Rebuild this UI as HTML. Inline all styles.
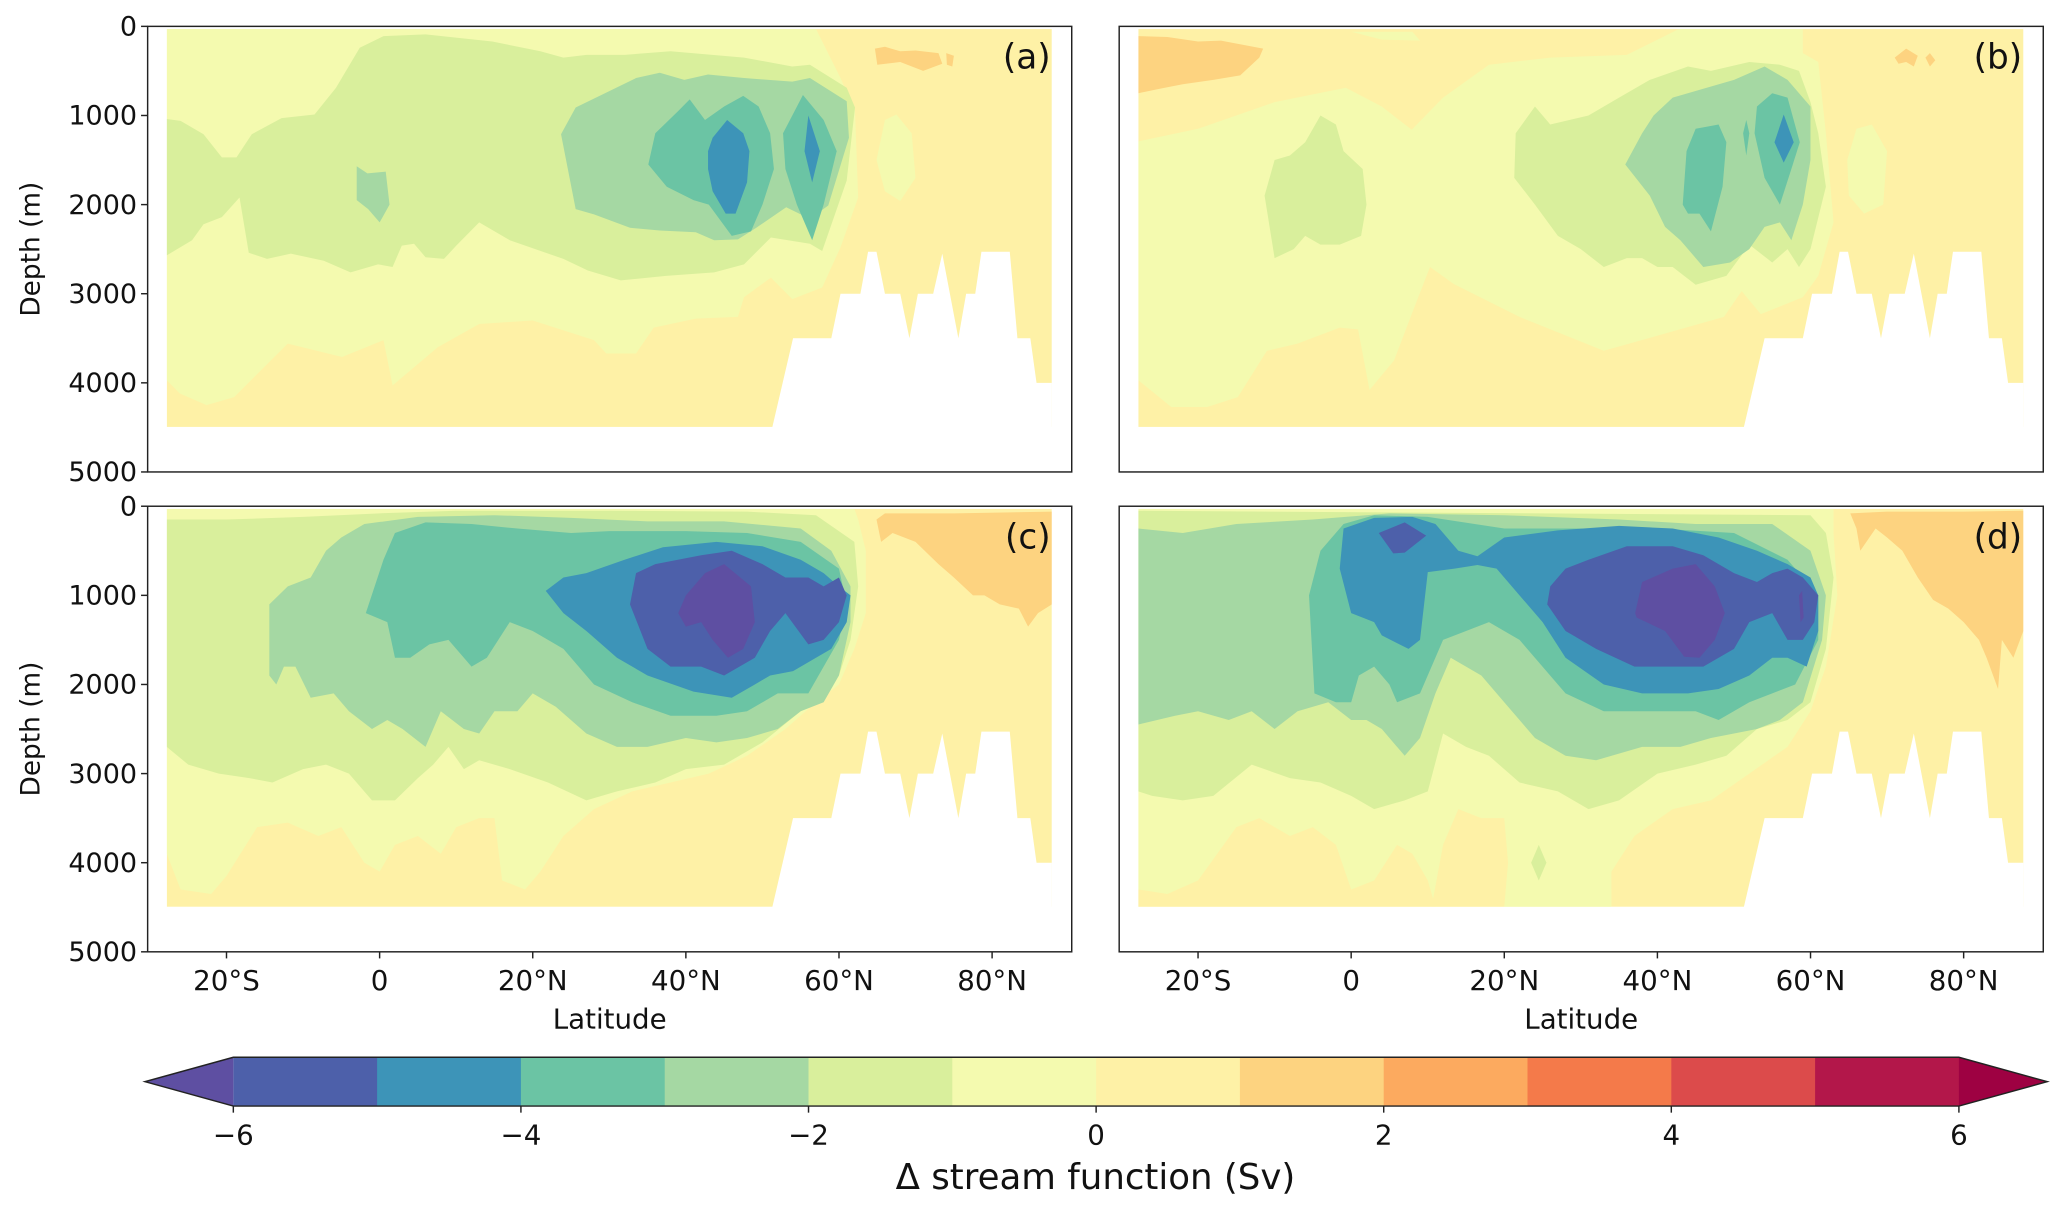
<!DOCTYPE html>
<html><head><meta charset="utf-8"><title>Stream function anomaly</title>
<style>html,body{margin:0;padding:0;background:#fff}svg{display:block}text{font-family:"DejaVu Sans","Liberation Sans",sans-serif;fill:#111}</style>
</head><body>
<svg id="fig" xmlns="http://www.w3.org/2000/svg" width="2067" height="1211" viewBox="0 0 1568 918.6" preserveAspectRatio="none"></svg>
<script>
// ---- colour scale data ----
const levelBounds = [-7,-6,-5,-4,-3,-2,-1,0,1,2,3,4,5,6];
const levelColors = ['#5e4fa2','#4d60aa','#3d94b8','#6bc4a4','#a5d8a3','#d9ef9c','#f4faaf','#fef1a6','#fdd380','#fcaa5f','#f47a4a','#dc4b4b','#b3174a','#9e0142'];
const cbarTicks = [-6,-4,-2,0,2,4,6];
const cbarTickLabels = ['\u22126','\u22124','\u22122','0','2','4','6'];
const depthTicks = [0,1000,2000,3000,4000,5000];
const latTicks = [-20,0,20,40,60,80];
const latTickLabels = ['20°S','0','20°N','40°N','60°N','80°N'];
const bathyMask = [[51.3,4495],[54,3500],[59,3500],[60.2,3000],[62.8,3000],[63.8,2530],[64.9,2530],[66,3000],[68,3000],[69.2,3500],[70.3,3000],[72.3,3000],[73.5,2550],[75.6,3500],[76.6,3000],[77.8,3000],[78.6,2530],[82.3,2530],[83.3,3500],[85,3500],[85.8,4000],[87.8,4000],[87.8,5000],[51.3,5000]];

// contours: [level lower bound, polygon of [lat, depth]]
const contoursA = [
 [-1,[[-27.8,30],[57,30],[60.2,580],[62.1,950],[62.5,1920],[60.2,2480],[57.8,2930],[53.9,3060],[51.1,2820],[47.6,3040],[46.8,3260],[41.3,3280],[35.8,3380],[33.5,3670],[29.6,3670],[28,3520],[20,3300],[13,3340],[7.6,3600],[1.7,4030],[0.5,3520],[-4.9,3710],[-12,3560],[-19,4160],[-22.6,4250],[-26.1,4120],[-27.8,3970]]],
 [-1,[[64.9,1500],[66,1050],[67.5,990],[69.5,1200],[70,1700],[68,1960],[66,1850]]],
 [1,[[64.7,250],[66,230],[68,280],[70,270],[73,300],[73.5,420],[71,500],[68,400],[65,430]]],
 [1,[[74,300],[75,330],[74.8,450],[74.1,430]]],
 [-2,[[-27.8,1040],[-26,1060],[-23,1210],[-20.6,1470],[-18.7,1470],[-16.7,1210],[-12.8,1030],[-8.5,990],[-5.7,690],[-2.6,240],[0.5,110],[6,90],[14.7,170],[21,280],[24,350],[27,320],[32,320],[38,280],[47.6,350],[53.9,450],[56.2,430],[61,690],[62.1,910],[61,1730],[57.8,2520],[56.2,2440],[51.1,2370],[47.6,2670],[43.7,2760],[37.4,2800],[31.5,2850],[27.2,2740],[24,2610],[17,2400],[13,2200],[10,2460],[8.4,2610],[6,2590],[4.5,2440],[2.9,2460],[1.7,2700],[-0.2,2670],[-3.8,2760],[-7.3,2630],[-11.6,2550],[-14.7,2610],[-17.1,2540],[-18.3,1920],[-20.6,2140],[-23,2220],[-24.5,2400],[-27.8,2570]]],
 [-3,[[-3,1570],[-1.6,1650],[0.8,1630],[1.3,2000],[0,2200],[-1.5,2050],[-3,1950]]],
 [-3,[[23.7,1210],[25.6,910],[33.5,580],[36.6,520],[39.8,600],[42.9,540],[47.6,580],[53.9,620],[56.2,580],[61,840],[61.3,1250],[58.6,2010],[56.2,2160],[53.1,2030],[49.2,2260],[46.8,2390],[43.7,2400],[41.3,2310],[36.6,2290],[32.7,2260],[28,2110],[25.6,2050]]],
 [-4,[[35.1,1550],[36,1200],[39,950],[40.5,820],[42.5,1050],[45,900],[47.5,780],[49.5,900],[51,1200],[51.5,1600],[50,2000],[48.5,2300],[46,2350],[43,2000],[41,1950],[37.5,1800]]],
 [-4,[[52.7,1200],[55.3,770],[58,1050],[59.7,1400],[58,2000],[56.5,2400],[54.5,2000],[53,1600]]],
 [-5,[[42.9,1400],[43.5,1250],[45.4,1050],[47.5,1200],[48.3,1400],[48,1750],[46.5,2100],[45.2,2100],[43.5,1850],[42.9,1600]]],
 [-5,[[55.5,1400],[56,1000],[57.5,1400],[56.5,1750]]]
];
const contoursB = [
 [-1,[[-27.8,1290],[-20,1150],[-10,850],[-0.7,690],[4,900],[7.9,1160],[12,800],[18,430],[26,350],[36,320],[43,20],[59,20],[59,300],[61,400],[62,1200],[63,2200],[61,2800],[59,3040],[53.5,3230],[51,2970],[48.7,3260],[33,3640],[22,3260],[13.4,2890],[10.3,2700],[7.9,3230],[5.6,3750],[2.4,4080],[0.9,3400],[-1.5,3380],[-7,3560],[-11,3640],[-14.8,4160],[-18.8,4270],[-23.5,4270],[-27.8,3970]]],
 [-1,[[64.8,1500],[66,1150],[68,1100],[70,1400],[69.5,2000],[67,2100],[65,1900]]],
 [-1,[[0,60],[8,60],[9,160],[4,150]]],
 [1,[[-27.8,110],[-24,120],[-20,170],[-17,160],[-11.5,250],[-12,350],[-14.5,550],[-18,600],[-22,650],[-25,700],[-27.8,750]]],
 [1,[[71,350],[72.5,250],[74,330],[73.5,450],[72.5,400],[71.5,420]]],
 [1,[[75,350],[75.6,300],[76.3,380],[75.6,450]]],
 [-2,[[-11.3,1900],[-10,1500],[-8,1450],[-6,1300],[-4,1000],[-2,1100],[-1,1400],[1.5,1600],[2,2000],[1.3,2350],[-1.5,2450],[-4,2450],[-6,2350],[-7.5,2500],[-10,2600]]],
 [-2,[[21.3,1700],[21.5,1200],[24,900],[26,1100],[31,1000],[35,800],[39,600],[44,450],[47,500],[52,400],[56,430],[58.5,500],[60,850],[61,1200],[62,1800],[60,2500],[58.5,2700],[57,2500],[55,2650],[52,2450],[49,2800],[45,2900],[42,2700],[40,2700],[38,2600],[36,2600],[33,2700],[30,2500],[27,2350],[24,2000]]],
 [-3,[[35.8,1550],[38,1200],[39.5,1000],[42,800],[46,700],[50,600],[54,450],[57,600],[60,900],[60,1500],[59,2000],[57.5,2400],[56,2200],[54,2250],[52,2500],[49.5,2650],[46,2700],[43,2400],[41,2250],[39,1900]]],
 [-4,[[43.3,2000],[43.8,1400],[45,1150],[48,1100],[49,1300],[48.5,1800],[47,2300],[45.5,2100],[44,2100]]],
 [-4,[[52.7,1200],[53,900],[55,750],[57,800],[58.6,1300],[57.5,1600],[56,2000],[54,1700]]],
 [-4,[[51.2,1200],[51.6,1050],[52,1200],[51.6,1450]]],
 [-5,[[55.3,1300],[56.5,990],[57.8,1300],[56.5,1530]]]
];
const contoursC = [
 [-1,[[-27.8,30],[62,30],[62.5,150],[63.5,500],[63.5,1200],[62,1600],[60,2000],[57,2200],[53,2500],[48,2800],[43,3000],[38,3100],[33,3200],[28,3400],[24,3700],[21,4100],[19,4300],[16,4200],[15,3500],[13,3500],[10,3600],[8,3900],[5,3700],[2,3800],[0,4100],[-2,4000],[-5,3600],[-8,3700],[-12,3550],[-16,3600],[-20,4150],[-22,4350],[-26,4300],[-27.8,3900]]],
 [1,[[64.9,150],[66,80],[75,80],[87.8,60],[87.8,1100],[86,1200],[84.7,1350],[83.5,1150],[81,1100],[79,1000],[77.5,1000],[75,800],[73,650],[70,400],[67,300],[65.5,400]]],
 [-2,[[-27.8,150],[-20,150],[-10,120],[0,80],[10,50],[30,50],[48,60],[57,100],[62,400],[62.5,900],[61.5,1500],[60,1900],[58,2100],[55,2300],[50,2650],[45,2900],[40,2950],[36,3100],[31,3200],[27,3300],[22,3100],[17,2950],[13,2850],[11,2950],[9,2700],[7,2900],[5,3050],[2,3300],[-1,3300],[-4,3000],[-7,2900],[-10,2950],[-14,3100],[-17,3050],[-21,3000],[-25,2900],[-27.8,2700]]],
 [-3,[[-14.4,1900],[-14.4,1100],[-12,900],[-9,800],[-7,500],[-5,350],[-2,200],[5,120],[15,100],[25,130],[35,170],[45,170],[55,250],[59,500],[61.5,900],[61.5,1300],[60,1900],[58,2200],[55,2300],[52,2500],[48,2600],[44,2650],[40,2600],[35,2700],[31,2700],[27,2550],[23,2250],[20,2100],[18,2300],[15,2300],[13,2550],[11,2500],[8,2300],[6,2700],[3,2500],[1,2400],[-1,2500],[-4,2300],[-6,2100],[-9,2150],[-11,1800],[-12.5,1800],[-13.5,2000]]],
 [-4,[[-1.8,1200],[0.5,600],[2,300],[6,180],[12,200],[18,250],[25,300],[30,280],[40,280],[48,300],[55,400],[60,700],[61,1100],[60,1500],[58,1800],[56,2100],[52,2100],[48,2300],[44,2350],[38,2350],[33,2200],[28,2000],[24,1600],[20,1400],[17,1300],[14,1700],[12,1800],[9,1500],[6.5,1550],[4,1700],[2,1700],[1,1300]]],
 [-5,[[21.7,950],[24,800],[27,750],[32,600],[37,460],[44,400],[50,450],[55,600],[58,750],[60,900],[61.5,1000],[61,1300],[59,1600],[57,1700],[54,1850],[51,1900],[49,2000],[46,2150],[41,2080],[35,1900],[31,1700],[27,1400],[24,1200]]],
 [-6,[[32.7,1100],[33.5,750],[36,650],[42,550],[46,500],[50,650],[53,800],[56,800],[58,900],[60,800],[61,1000],[60,1300],[58,1500],[56,1550],[53,1200],[51,1400],[49,1700],[45,1900],[42,1800],[38,1800],[35,1600]]],
 [-7,[[39,1200],[40,1000],[42.5,750],[45,650],[48.5,900],[49,1300],[47.5,1600],[45.5,1700],[43.5,1500],[42,1300],[40,1350]]]
];
const contoursD = [
 [-1,[[-27.8,30],[63,30],[63,300],[63.5,1000],[62,1800],[60,2300],[57,2700],[52,3000],[47,3300],[42,3400],[37,3700],[34,4100],[34,4495],[-27.8,4495]]],
 [0,[[-27.8,4300],[-24,4350],[-20,4200],[-15,3600],[-12,3500],[-8,3700],[-5,3600],[-2,3800],[0,4300],[3,4200],[6,3800],[8,3900],[10,4200],[11,4495],[-27.8,4495]]],
 [0,[[10.5,4495],[12,3800],[14,3400],[17,3500],[20,3500],[20.5,4000],[20,4495]]],
 [1,[[65.2,80],[70,60],[80,60],[87.8,50],[87.8,1400],[86.5,1700],[85,1500],[84.5,2050],[83,1700],[82,1500],[80,1300],[78,1150],[76,1050],[74,800],[72,500],[70,350],[68.5,250],[66.5,500],[66,250]]],
 [-2,[[-27.8,50],[60,100],[62,300],[63,800],[62,1600],[60,2200],[57,2400],[53,2500],[49,2800],[45,2900],[40,3000],[35,3300],[31,3400],[27,3200],[22,3100],[18,2800],[15,2700],[12,2550],[10,3200],[7,3300],[3,3400],[0,3250],[-4,3100],[-8,3050],[-13,2900],[-18,3250],[-22,3300],[-26,3250],[-27.8,3200]]],
 [-2,[[23.5,4000],[24.5,3800],[25.5,4000],[24.5,4200]]],
 [-3,[[-27.8,250],[-22,300],[-15,200],[-5,150],[5,80],[20,100],[35,150],[45,200],[55,200],[60,500],[62,1000],[61.5,1500],[59,2200],[56,2400],[53,2500],[50,2550],[47,2600],[43,2700],[38,2700],[32,2850],[28,2800],[24,2600],[20,2200],[17,1900],[13,1700],[11,2100],[9,2600],[7,2800],[4,2500],[2,2400],[0,2400],[-3,2200],[-7,2300],[-10,2500],[-13,2300],[-16,2400],[-20,2300],[-23,2350],[-27.8,2450]]],
 [-4,[[-4.8,2100],[-5.5,1000],[-4,500],[-1,200],[3,100],[10,120],[20,250],[30,250],[40,250],[50,300],[57,600],[61,1000],[61,1500],[58,2000],[55,2100],[52,2200],[48,2400],[45,2300],[40,2300],[33,2300],[28,2100],[22,1500],[18,1300],[12,1500],[9,2100],[6,2200],[5,2000],[3,1800],[1,1900],[0,2200],[-2,2200]]],
 [-5,[[-1.5,700],[-1,250],[3,130],[8,120],[11,200],[14,500],[16.5,560],[20,350],[27,270],[35,220],[42,250],[48,350],[53,500],[57,650],[60,800],[61,1000],[61,1400],[59.5,1800],[57,1700],[55,1700],[52,1900],[48,2050],[44,2100],[38,2100],[33,2000],[28,1700],[25,1300],[22,1000],[19,700],[16.5,660],[13.5,700],[10,740],[9,1500],[7.5,1600],[4,1450],[3,1300],[0,1200]]],
 [-6,[[25.6,1100],[26,900],[28,700],[31,600],[36,450],[42,450],[46,550],[50,750],[53,850],[55,750],[57,700],[59,800],[61,1000],[60.5,1300],[59,1500],[57,1500],[55,1200],[52,1300],[50,1600],[46,1800],[42,1800],[37,1800],[32,1600],[28,1400]]],
 [-6,[[3.6,300],[7,180],[9.8,330],[7,520],[5.5,530]]],
 [-7,[[37.1,1200],[38,850],[42,700],[45,650],[47.5,900],[48.8,1200],[47.5,1500],[45.5,1700],[43.5,1690],[41,1400],[37.3,1250]]],
 [-7,[[58.5,1000],[58.9,950],[59.1,1250],[58.7,1300]]]
];
const panels = [
 {id:'a', x0:112, y0:20, contours:contoursA, ylab:true, xlab:false},
 {id:'b', x0:849, y0:20, contours:contoursB, ylab:false, xlab:false},
 {id:'c', x0:112, y0:384, contours:contoursC, ylab:true, xlab:true},
 {id:'d', x0:849, y0:384, contours:contoursD, ylab:false, xlab:true}
];
const PW=701, PH=338, LAT0=-30.3, LAT1=90.4, DMAX=5000;
const NS='http://www.w3.org/2000/svg';
const svg=document.getElementById('fig');
function mk(tag,attrs,parent){const e=document.createElementNS(NS,tag);for(const k in attrs)e.setAttribute(k,attrs[k]);(parent||svg).appendChild(e);return e;}
function colorOf(l){return levelColors[levelBounds.indexOf(l)];}

panels.forEach(p=>{
  const xs=lat=>p.x0+(lat-LAT0)/(LAT1-LAT0)*PW;
  const ys=d=>p.y0+d/DMAX*PH;
  const g=mk('g',{});
  
  
  const cp=mk('clipPath',{id:'clip'+p.id},g);
  mk('rect',{x:p.x0,y:p.y0,width:PW,height:PH},cp);
  const field=mk('g',{'clip-path':'url(#clip'+p.id+')'},g);
  
  
  const base=mk('rect',{x:xs(-27.8),y:ys(30),width:xs(87.8)-xs(-27.8),height:ys(4495)-ys(30),fill:colorOf(0)},field);
  
  
  p.contours.forEach(c=>{
    const pts=c[1].map(q=>xs(q[0]).toFixed(1)+','+ys(q[1]).toFixed(1)).join(' ');
    const poly=mk('polygon',{points:pts,fill:colorOf(c[0])},field);
    
    
  });
  const m=mk('polygon',{points:bathyMask.map(q=>xs(q[0]).toFixed(1)+','+ys(q[1]).toFixed(1)).join(' '),fill:'#fff'},field);
  
  
  mk('rect',{x:xs(87.8),y:p.y0,width:p.x0+PW-xs(87.8),height:PH,fill:'#fff'},field);
  mk('rect',{x:p.x0,y:ys(4495),width:PW,height:p.y0+PH-ys(4495),fill:'#fff'},field);
  mk('rect',{x:p.x0,y:p.y0,width:xs(-27.8)-p.x0,height:PH,fill:'#fff'},field);
  mk('rect',{x:p.x0,y:p.y0,width:PW,height:ys(30)-p.y0,fill:'#fff'},field);
  const fr=mk('rect',{x:p.x0,y:p.y0,width:PW,height:PH,fill:'none',stroke:'#222','stroke-width':1.1},g);
  
  
  const lb=mk('text',{x:p.x0+PW-16,y:p.y0+32,'text-anchor':'end','font-size':26},g);
  lb.textContent='('+p.id+')';
  
  
  if(p.ylab){
    depthTicks.forEach(d=>{
      mk('line',{x1:p.x0-5,x2:p.x0,y1:ys(d),y2:ys(d),stroke:'#222','stroke-width':1.1},g);
      const t=mk('text',{x:p.x0-8,y:ys(d)+7,'text-anchor':'end','font-size':20.5},g);
      t.textContent=d;
      
      
    });
    const yt=mk('text',{x:0,y:0,'text-anchor':'middle','font-size':20,transform:'translate(30,'+(p.y0+PH/2)+') rotate(-90)'},g);
    yt.textContent='Depth (m)';
    
    
  }
  if(p.xlab){
    latTicks.forEach((l,i)=>{
      mk('line',{x1:xs(l),x2:xs(l),y1:p.y0+PH,y2:p.y0+PH+5,stroke:'#222','stroke-width':1.1},g);
      const t=mk('text',{x:xs(l),y:p.y0+PH+29,'text-anchor':'middle','font-size':21},g);
      t.textContent=latTickLabels[i];
      
      
    });
    const xt=mk('text',{x:p.x0+PW/2,y:p.y0+PH+58,'text-anchor':'middle','font-size':21},g);
    xt.textContent='Latitude';
    
    
  }
});

// colorbar
const CB={x0:177,x1:1486,y0:802,y1:839};
const cbx=v=>CB.x0+(v+6)/12*(CB.x1-CB.x0);
const cb=mk('g',{});


for(let i=1;i<levelBounds.length-1;i++){
  const lo=levelBounds[i];
  const r=mk('rect',{x:cbx(lo),y:CB.y0,width:cbx(lo+1)-cbx(lo)+0.5,height:CB.y1-CB.y0,fill:levelColors[i]},cb);
  
  
}
const ym=(CB.y0+CB.y1)/2;
const tl=mk('polygon',{points:`${CB.x0},${CB.y0} ${110},${ym} ${CB.x0},${CB.y1}`,fill:levelColors[0]},cb);


const tr=mk('polygon',{points:`${CB.x1},${CB.y0} ${1553},${ym} ${CB.x1},${CB.y1}`,fill:levelColors[levelColors.length-1]},cb);


mk('polygon',{points:`${CB.x0},${CB.y0} ${CB.x1},${CB.y0} 1553,${ym} ${CB.x1},${CB.y1} ${CB.x0},${CB.y1} 110,${ym}`,fill:'none',stroke:'#222','stroke-width':1.1},cb);
cbarTicks.forEach((v,i)=>{
  mk('line',{x1:cbx(v),x2:cbx(v),y1:CB.y1,y2:CB.y1+5,stroke:'#222','stroke-width':1.1},cb);
  const t=mk('text',{x:cbx(v),y:CB.y1+29,'text-anchor':'middle','font-size':21},cb);
  t.textContent=cbarTickLabels[i];
  
  
});
const ct=mk('text',{x:831,y:902,'text-anchor':'middle','font-size':27},cb);
ct.textContent='\u0394 stream function (Sv)';


</script>
</body></html>
